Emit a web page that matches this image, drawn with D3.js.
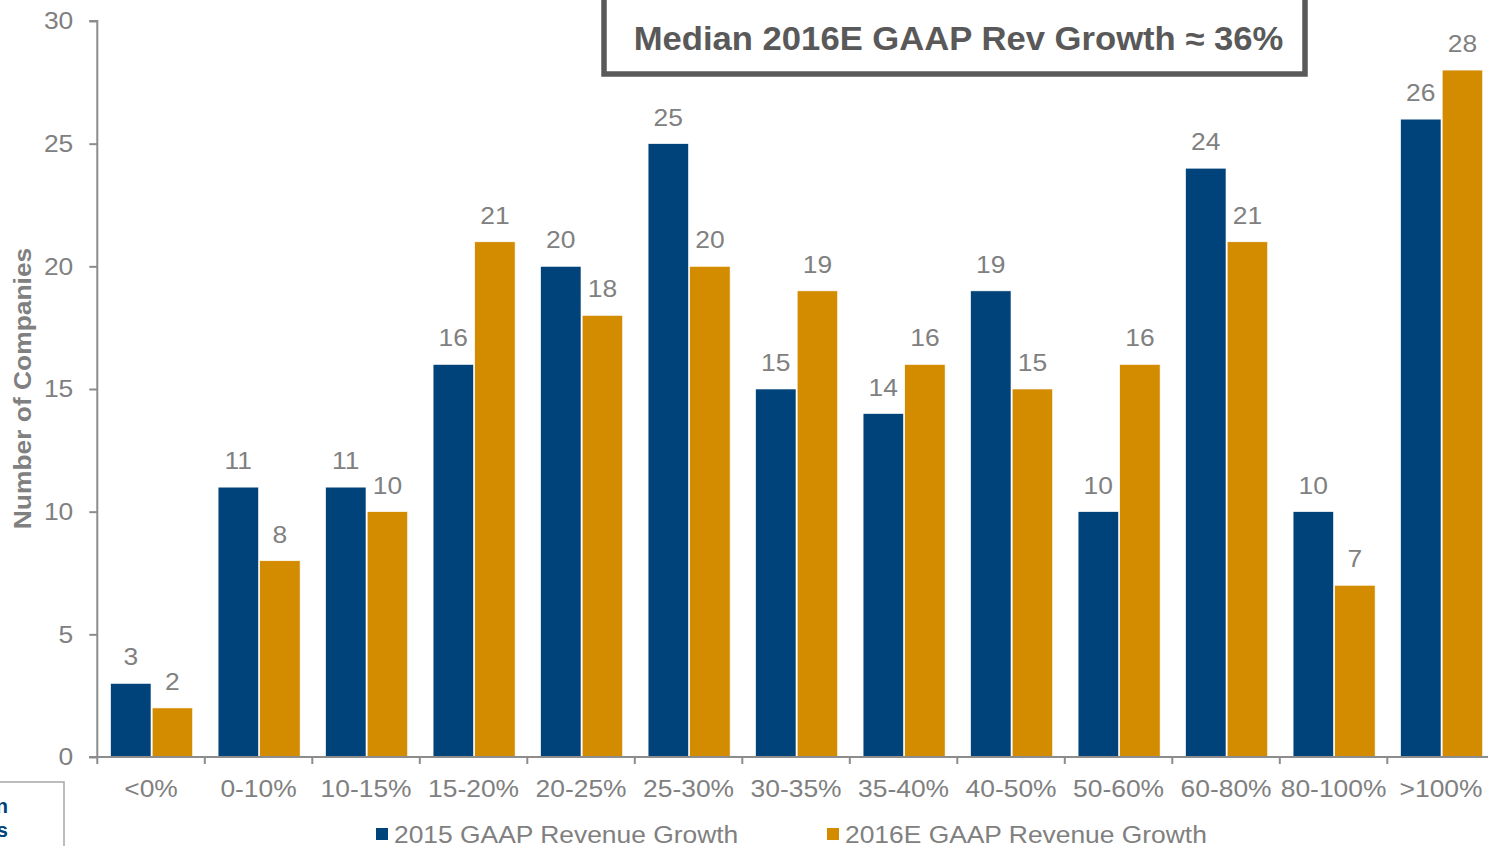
<!DOCTYPE html>
<html>
<head>
<meta charset="utf-8">
<script src="https://cdn.jsdelivr.net/npm/d3@7"></script>
<style>
  html, body { margin: 0; padding: 0; background: #fff; overflow: hidden; }
  svg { display: block; font-family: "Liberation Sans", Arial, sans-serif; }
</style>
</head>
<body>
<svg id="chart" width="1488" height="846"></svg>
<script>
// Growth buckets and company counts per year
const categories = ["<0%", "0-10%", "10-15%", "15-20%", "20-25%", "25-30%", "30-35%",
                    "35-40%", "40-50%", "50-60%", "60-80%", "80-100%", ">100%"];
const growth2015 = [3, 11, 11, 16, 20, 25, 15, 14, 19, 10, 24, 10, 26];
const growth2016E = [2, 8, 10, 21, 18, 20, 19, 16, 15, 16, 21, 7, 28];
const seriesNames = ["2015 GAAP Revenue Growth", "2016E GAAP Revenue Growth"];
const yTicks = [0, 5, 10, 15, 20, 25, 30];
const headline = "Median 2016E GAAP Rev Growth \u2248 36%";

const colors = ["#00427a", "#d38b00"];
const grey = "#808080";
const axisGrey = "#8c8c8c";
const SX = 1.1; // horizontal stretch applied to text to get the wide lettering

const svg = d3.select("#chart");

const x0 = d3.scaleBand().domain(categories).range([97.3, 1494.8]).paddingInner(0).paddingOuter(0);
const y = d3.scaleLinear().domain([0, 30]).range([757, 21]);

const barW = 40.4;
const barGap = 1.2;
const barOffset = 13.3;
const barX = (c, si) => x0(c) + barOffset + si * (barW + barGap);

// Text helper: places a label and stretches it horizontally around its anchor
function label(parent, x, y, str, opts = {}) {
  const t = parent.append("text")
    .attr("transform", `translate(${x},${y})${opts.rotate ? ` rotate(${opts.rotate})` : ""} scale(${opts.sx || SX},1)`)
    .attr("text-anchor", opts.anchor || "middle")
    .attr("font-size", opts.size || 24)
    .attr("fill", opts.fill || grey)
    .text(str);
  if (opts.bold) t.attr("font-weight", "bold");
  return t;
}

const series = [growth2015, growth2016E];

// Bars and value labels
const g = svg.append("g");
series.forEach((vals, si) => {
  const rows = categories.map((c, i) => ({ c, v: vals[i] }));
  g.selectAll(null)
    .data(rows)
    .enter().append("rect")
    .attr("x", d => barX(d.c, si))
    .attr("y", d => y(d.v))
    .attr("width", barW)
    .attr("height", d => y(0) - y(d.v))
    .attr("fill", colors[si])
    .attr("stroke", "#fff")
    .attr("stroke-width", 0.6);

  rows.forEach(d => label(g, barX(d.c, si) + barW / 2, y(d.v) - 18, d.v));
});

// Y axis
const yAxis = d3.axisLeft(y).tickValues(yTicks).tickSize(8);
const yg = svg.append("g").attr("transform", "translate(97.3,0)").call(yAxis);
yg.select(".domain").attr("stroke", axisGrey).attr("stroke-width", 2).attr("d", `M-8,${y(30)}H0V${y(0)}`);
yg.selectAll(".tick line").attr("stroke", axisGrey).attr("stroke-width", 2);
yg.selectAll(".tick text")
  .attr("x", 0)
  .attr("transform", `translate(-24,0) scale(${SX},1)`)
  .attr("font-size", 24).attr("fill", grey)
  .attr("font-family", "Liberation Sans, Arial, sans-serif");

// X axis: baseline with ticks at category boundaries
const xg = svg.append("g");
xg.append("line").attr("x1", 89).attr("x2", 1495).attr("y1", y(0)).attr("y2", y(0))
  .attr("stroke", axisGrey).attr("stroke-width", 2);
xg.selectAll(null).data(categories).enter().append("line")
  .attr("x1", d => x0(d)).attr("x2", d => x0(d))
  .attr("y1", y(0)).attr("y2", y(0) + 7)
  .attr("stroke", axisGrey).attr("stroke-width", 2);
categories.forEach(c => label(xg, x0(c) + x0.bandwidth() / 2, 797, c));

// Y axis title
label(svg, 31, 388.5, "Number of Companies", { rotate: -90, bold: true });

// Headline box
svg.append("rect")
  .attr("x", 604).attr("y", -10).attr("width", 701).attr("height", 84)
  .attr("fill", "#fff").attr("stroke", "#595959").attr("stroke-width", 5.5);
label(svg, 958.5, 50, headline, { size: 32.5, bold: true, fill: "#595959", sx: 1.066 });

// Legend
const legendItems = [{ x: 376, name: seriesNames[0], c: colors[0] },
                     { x: 827, name: seriesNames[1], c: colors[1] }];
const lg = svg.append("g");
lg.selectAll(null).data(legendItems).enter().append("rect")
  .attr("x", d => d.x).attr("y", 828).attr("width", 12).attr("height", 12)
  .attr("fill", d => d.c);
legendItems.forEach(d => label(lg, d.x + 18, 843, d.name, { anchor: "start" }));

// Side note box, mostly off the left edge
svg.append("rect")
  .attr("x", -300).attr("y", 782).attr("width", 364).attr("height", 100)
  .attr("fill", "none").attr("stroke", "#a6a6a6").attr("stroke-width", 1.5);
const note = svg.append("text").attr("font-size", 20).attr("font-weight", "bold")
  .attr("fill", "#00427a").attr("text-anchor", "end");
note.append("tspan").attr("x", 8).attr("y", 813).text("Median");
note.append("tspan").attr("x", 8).attr("y", 837).text("Companies");
</script>
</body>
</html>
